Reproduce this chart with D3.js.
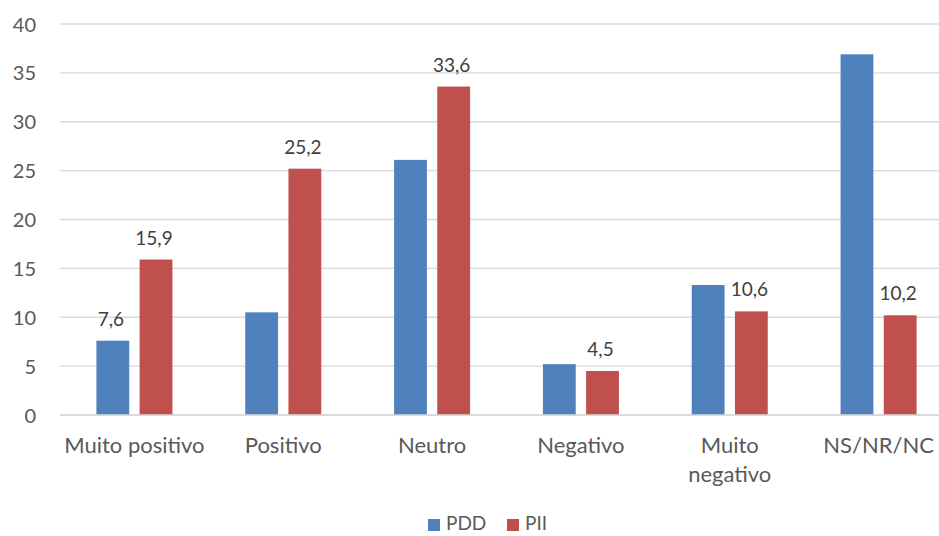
<!DOCTYPE html>
<html>
<head>
<meta charset="utf-8">
<script src="https://cdn.jsdelivr.net/npm/d3@7"></script>
<style>
  html, body { margin: 0; padding: 0; background: #fff; }
  svg { display: block; font-family: Lato, "Open Sans", sans-serif; }
</style>
</head>
<body>
<svg id="chart" width="939" height="536"></svg>
<script>
const categories = ["Muito positivo", "Positivo", "Neutro", "Negativo", "Muito negativo", "NS/NR/NC"];
const seriesNames = ["PDD", "PII"];
const pddValues = [7.6, 10.5, 26.1, 5.2, 13.3, 36.9];
const piiValues = [15.9, 25.2, 33.6, 4.5, 10.6, 10.2];
const pddLabels = ["7,6", null, null, null, null, null];
const piiLabels = ["15,9", "25,2", "33,6", "4,5", "10,6", "10,2"];
const yTicks = [0, 5, 10, 15, 20, 25, 30, 35, 40];
const colors = { PDD: "#4F81BD", PII: "#C0504D" };

const svg = d3.select("#chart");
const plotLeft = 60, plotRight = 953, plotTop = 24, plotBottom = 415;

const x0 = d3.scaleBand().domain(categories).range([plotLeft, plotRight]).paddingInner(0).paddingOuter(0);
const x1 = d3.scaleBand().domain(seriesNames).range([0, x0.bandwidth()]).paddingInner(0.24).paddingOuter(0.843);
const y = d3.scaleLinear().domain([0, 40]).range([plotBottom, plotTop]);

// gridlines
svg.append("g").selectAll("line").data(yTicks).join("line")
  .attr("x1", plotLeft).attr("x2", plotRight)
  .attr("y1", d => y(d)).attr("y2", d => y(d))
  .attr("stroke", "#d9d9d9").attr("stroke-width", 1.3);

// y axis labels
const yAxis = d3.axisLeft(y).tickValues(yTicks).tickSize(0).tickPadding(0).tickFormat(d3.format("d"));
const ya = svg.append("g").attr("transform", `translate(36,0)`).call(yAxis);
ya.select(".domain").remove();
ya.selectAll("text").attr("font-size", 20).attr("fill", "#595959").attr("font-family", "Lato").attr("dy", "0.35em");

// bars
const rows = categories.map((c, i) => ({ cat: c, vals: [
  { s: "PDD", v: pddValues[i], label: pddLabels[i] },
  { s: "PII", v: piiValues[i], label: piiLabels[i] }
]}));

const groups = svg.append("g").selectAll("g").data(rows).join("g")
  .attr("transform", d => `translate(${x0(d.cat)},0)`);

groups.selectAll("rect").data(d => d.vals).join("rect")
  .attr("x", d => x1(d.s)).attr("width", x1.bandwidth())
  .attr("y", d => y(d.v)).attr("height", d => y(0) - y(d.v))
  .attr("fill", d => colors[d.s]);

groups.selectAll("text.lbl").data(d => d.vals.filter(v => v.label)).join("text")
  .attr("class", "lbl")
  .attr("x", d => x1(d.s) + x1.bandwidth() / 2 - 2)
  .attr("y", d => y(d.v) - 15)
  .attr("text-anchor", "middle")
  .attr("font-size", 19).attr("fill", "#404040")
  .text(d => d.label);

// zero line
svg.append("line").attr("x1", plotLeft).attr("x2", plotRight).attr("y1", y(0)).attr("y2", y(0))
  .attr("stroke", "#d9d9d9").attr("stroke-width", 1.3);

// x axis labels
const xa = svg.append("g");
xa.selectAll("text").data(categories).join("text")
  .attr("x", d => x0(d) + x0.bandwidth() / 2)
  .attr("y", 453)
  .attr("text-anchor", "middle")
  .attr("font-size", 22).attr("fill", "#595959")
  .each(function(d) {
    const t = d3.select(this);
    const parts = d === "Muito negativo" ? ["Muito", "negativo"] : [d];
    parts.forEach((p, i) => t.append("tspan").attr("x", x0(d) + x0.bandwidth() / 2).attr("dy", i === 0 ? 0 : 29).text(p));
  });

// legend
const legend = svg.append("g");
const legendItems = [{ s: "PDD", x: 428 }, { s: "PII", x: 507 }];
legend.selectAll("rect").data(legendItems).join("rect")
  .attr("x", d => d.x).attr("y", 519).attr("width", 12).attr("height", 12)
  .attr("fill", d => colors[d.s]);
legend.selectAll("text").data(legendItems).join("text")
  .attr("x", d => d.x + 18).attr("y", 530)
  .attr("font-size", 19).attr("fill", "#595959")
  .text(d => d.s);
</script>
</body>
</html>
